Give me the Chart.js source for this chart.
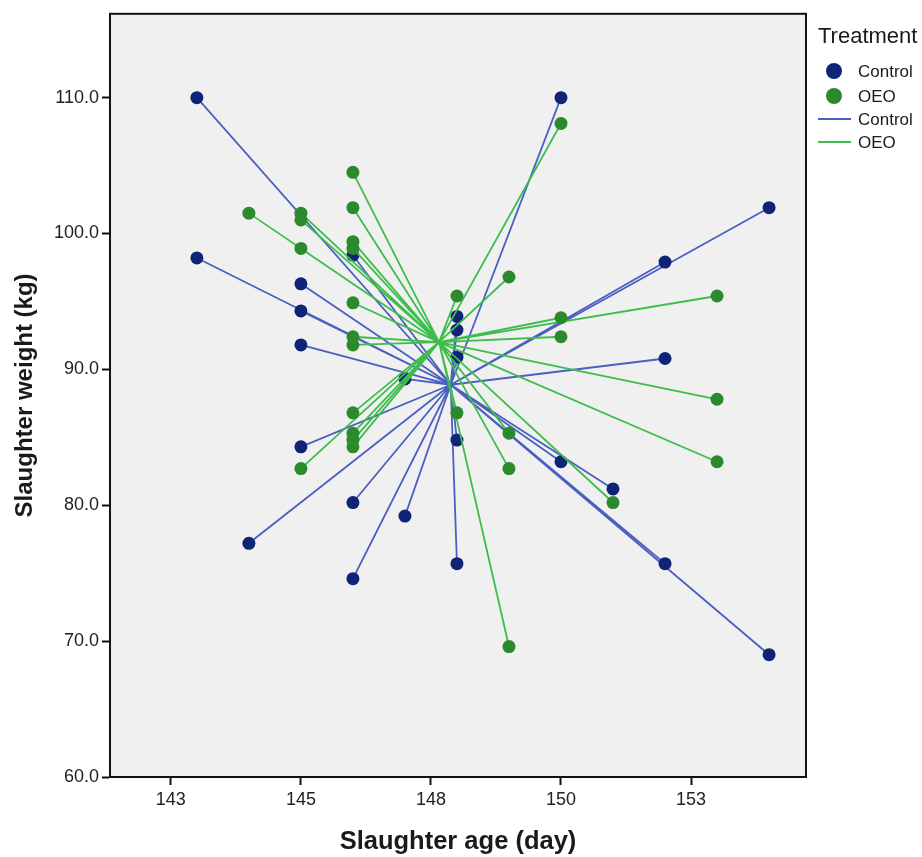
<!DOCTYPE html>
<html>
<head>
<meta charset="utf-8">
<script src="https://cdn.jsdelivr.net/npm/chart.js@4.4.0/dist/chart.umd.min.js"></script>
<style>
html,body{margin:0;padding:0;background:#fff;}
#wrap{width:922px;height:857px;}
</style>
</head>
<body>
<div id="wrap"><canvas id="c" width="922" height="857"></canvas></div>
<script>
// ---- data ----
const seriesNames = ['Control', 'OEO'];
const legendTitle = 'Treatment';
const xTitle = 'Slaughter age (day)';
const yTitle = 'Slaughter weight (kg)';

const controlAge = [143, 143, 145, 145, 145, 145, 144, 146, 146, 147, 148, 148, 148, 148, 148, 146, 147, 150, 150, 151, 152, 152, 152, 154, 154];
const controlWeight = [110.0, 98.2, 96.3, 94.3, 91.8, 84.3, 77.2, 80.2, 74.6, 79.2, 75.7, 84.8, 90.9, 92.9, 93.9, 98.4, 89.3, 110.0, 83.2, 81.2, 97.9, 90.8, 75.7, 101.9, 69.0];

const oeoAge = [144, 145, 145, 145, 145, 146, 146, 146, 146, 146, 146, 146, 146, 146, 146, 146, 148, 148, 149, 149, 149, 149, 150, 150, 150, 151, 153, 153, 153];
const oeoWeight = [101.5, 101.5, 101.0, 98.9, 82.7, 104.5, 101.9, 99.4, 98.9, 94.9, 92.4, 91.8, 86.8, 85.3, 84.8, 84.3, 95.4, 86.8, 96.8, 85.3, 82.7, 69.6, 108.1, 93.8, 92.4, 80.2, 95.4, 87.8, 83.2];

const xTickValues = [142.5, 145, 147.5, 150, 152.5];
const yTickValues = [60, 70, 80, 90, 100, 110];

// ---- styling ----
const FONT = "'Liberation Sans', Arial, Helvetica, sans-serif";
const COL = {
  controlDot: '#0f2377',
  oeoDot: '#2b8a2b',
  controlLine: '#4a60c0',
  oeoLine: '#3dbd4b'
};

function mean(a){ return a.reduce((s,v)=>s+v,0)/a.length; }
function points(ages, wts){ return ages.map((a,i)=>({x:a, y:wts[i]})); }
function spokes(ages, wts){
  const cx = mean(ages), cy = mean(wts);
  const out = [];
  ages.forEach((a,i)=>{
    out.push({x:a, y:wts[i]});
    out.push({x:cx, y:cy});
    out.push({x:a, y:null});
  });
  return out;
}

const framePlugin = {
  id: 'frameAndLegend',
  beforeDraw(chart){
    const {ctx, chartArea:a} = chart;
    ctx.save();
    ctx.fillStyle = '#f0f0f0';
    ctx.fillRect(a.left, a.top, a.right - a.left, a.bottom - a.top);
    ctx.restore();
  },
  afterDraw(chart){
    const {ctx, chartArea:a} = chart;
    ctx.save();
    ctx.strokeStyle = '#111';
    ctx.lineWidth = 2;
    ctx.strokeRect(a.left, a.top, a.right - a.left, a.bottom - a.top);

    // legend
    const lx = a.right + 12;
    ctx.fillStyle = '#1a1a1a';
    ctx.textBaseline = 'middle';
    ctx.textAlign = 'left';
    ctx.font = '22px ' + FONT;
    ctx.fillText(legendTitle, lx, 37);
    ctx.font = '17px ' + FONT;
    const dotCols = [COL.controlDot, COL.oeoDot];
    const lineCols = [COL.controlLine, COL.oeoLine];
    const rows = [71, 96, 119, 142];
    seriesNames.forEach((name, i) => {
      const y = rows[i];
      ctx.beginPath();
      ctx.fillStyle = dotCols[i];
      ctx.arc(a.right + 28, y, 8, 0, Math.PI * 2);
      ctx.fill();
      ctx.fillStyle = '#1a1a1a';
      ctx.fillText(name, a.right + 52, y + 1);
    });
    seriesNames.forEach((name, i) => {
      const y = rows[i + 2];
      ctx.beginPath();
      ctx.strokeStyle = lineCols[i];
      ctx.lineWidth = 2;
      ctx.moveTo(a.right + 12, y);
      ctx.lineTo(a.right + 45, y);
      ctx.stroke();
      ctx.fillStyle = '#1a1a1a';
      ctx.fillText(name, a.right + 52, y + 1);
    });
    ctx.restore();
  }
};

new Chart(document.getElementById('c'), {
  type: 'scatter',
  data: {
    datasets: [
      { label: seriesNames[1] + ' points', data: points(oeoAge, oeoWeight),
        backgroundColor: COL.oeoDot, borderColor: COL.oeoDot, pointRadius: 6.5, borderWidth: 0, showLine: false },
      { label: seriesNames[1] + ' lines', data: spokes(oeoAge, oeoWeight),
        borderColor: COL.oeoLine, borderWidth: 1.8, pointRadius: 0, showLine: true, spanGaps: false },
      { label: seriesNames[0] + ' points', data: points(controlAge, controlWeight),
        backgroundColor: COL.controlDot, borderColor: COL.controlDot, pointRadius: 6.5, borderWidth: 0, showLine: false },
      { label: seriesNames[0] + ' lines', data: spokes(controlAge, controlWeight),
        borderColor: COL.controlLine, borderWidth: 1.8, pointRadius: 0, showLine: true, spanGaps: false }
    ]
  },
  options: {
    responsive: false,
    animation: false,
    layout: { padding: { top: 12, right: 116, left: 0, bottom: 0 } },
    plugins: { legend: { display: false }, tooltip: { enabled: false } },
    scales: {
      x: {
        type: 'linear', min: 141.33, max: 154.71,
        afterBuildTicks(s){ s.ticks = xTickValues.map(v => ({value: v})); },
        afterFit(s){ s.height = 80; },
        grid: { display: true, drawOnChartArea: false, drawTicks: true, tickLength: 8, color: '#111', tickWidth: 2 },
        border: { display: true, color: '#111', width: 2 },
        ticks: { color: '#222', font: { family: FONT, size: 18 }, padding: 4, maxRotation: 0,
          callback: v => String(Math.round(v)) },
        title: { display: true, text: xTitle, color: '#1a1a1a', font: { family: FONT, size: 25.5, weight: 'bold' }, padding: { top: 0, bottom: 0 } }
      },
      y: {
        type: 'linear', min: 60, max: 116.17,
        afterBuildTicks(s){ s.ticks = yTickValues.map(v => ({value: v})); },
        afterFit(s){ s.width = 110; },
        grid: { display: true, drawOnChartArea: false, drawTicks: true, tickLength: 8, color: '#111', tickWidth: 2 },
        border: { display: true, color: '#111', width: 2 },
        ticks: { color: '#222', font: { family: FONT, size: 18 }, padding: 3,
          callback: v => Number(v).toFixed(1) },
        title: { display: true, text: yTitle, color: '#1a1a1a', font: { family: FONT, size: 24, weight: 'bold' }, padding: { top: 11, bottom: 0 } }
      }
    }
  },
  plugins: [framePlugin]
});
</script>
</body>
</html>
